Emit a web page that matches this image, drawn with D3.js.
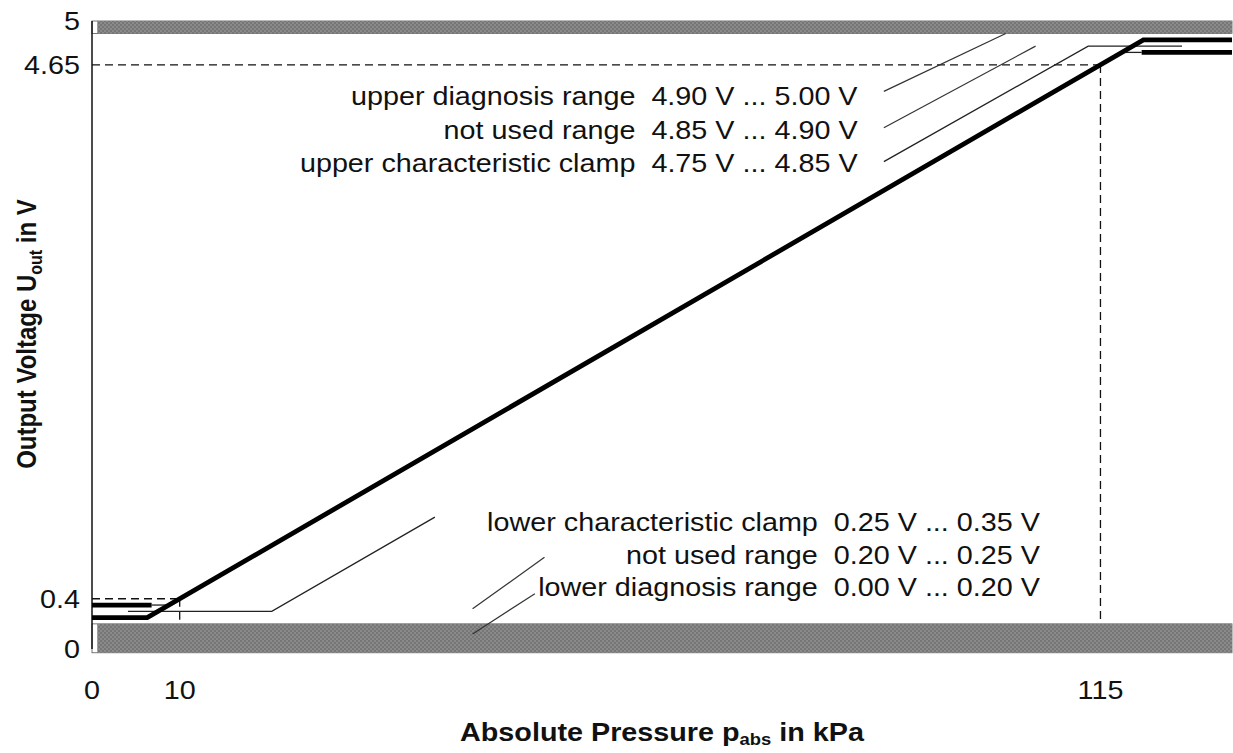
<!DOCTYPE html>
<html><head><meta charset="utf-8">
<script src="https://cdn.jsdelivr.net/npm/d3@7"></script>
<style>
html,body{margin:0;padding:0;background:#fff;}
svg{display:block;}
text{font-family:"Liberation Sans",Arial,sans-serif;fill:#111;}
</style></head>
<body>
<svg id="chart" width="1233" height="753"></svg>
<script>
// ---- data ----
const xDomain = [0, 130];               // kPa
const yDomain = [0, 5];                 // V
const xTickValues = [0, 10, 115];
const xTickLabels = ["0", "10", "115"];
const yTickValues = [0, 0.4, 4.65, 5];
const yTickLabels = ["0", "0.4", "4.65", "5"];

// characteristic (thick)
const characteristic = [[0, 0.25], [6.3, 0.25], [119.9, 4.85], [130, 4.85]];
const lowerClampThick = [[0, 0.35], [6.8, 0.35]];
const lowerClampThin = [[6.8, 0.35], [8.8, 0.35]];
const upperClampThick = [[119.7, 4.75], [130, 4.75]];
const upperClampThin = [[117.5, 4.75], [119.7, 4.75]];

// nominal clamp lines + leaders (thin)
const lowerNominal = [[4.1, 0.30], [20.5, 0.30], [39.1, 1.05]];
const upperNominal = [[90.3, 3.88], [113.6, 4.80], [124.3, 4.80]];
const leaderLines = [
  [[90.3, 4.44], [104.2, 4.90]],
  [[90.3, 4.15], [107.6, 4.80]],
  [[43.4, 0.32], [51.6, 0.73]],
  [[43.4, 0.12], [50.5, 0.44]]
];

// diagnosis bands
const bandLow = [0.6, 0.6];
const bandRanges = [[4.90, 5.00], [-0.03, 0.20]];

// dashed reference lines
const refLines = [
  [[0, 4.65], [115, 4.65]],
  [[115, 4.65], [115, 0.2]],
  [[0, 0.4], [10, 0.4]],
  [[10, 0.4], [10, 0.2]]
];

// annotation texts
const upperNames = ["upper diagnosis range", "not used range", "upper characteristic clamp"];
const upperRanges = ["4.90 V ... 5.00 V", "4.85 V ... 4.90 V", "4.75 V ... 4.85 V"];
const upperTextX = 87.3;
const upperTextY = [4.40, 4.13, 3.87];
const lowerNames = ["lower characteristic clamp", "not used range", "lower diagnosis range"];
const lowerRanges = ["0.25 V ... 0.35 V", "0.20 V ... 0.25 V", "0.00 V ... 0.20 V"];
const lowerTextX = 108.1;
const lowerTextY = [1.01, 0.75, 0.49];

// ---- drawing ----
const svg = d3.select("#chart");
const SX = 1.15;   // horizontal text stretch seen in the reference
const x = d3.scaleLinear().domain(xDomain).range([92, 1232]);
const y = d3.scaleLinear().domain(yDomain).range([649, 21]);
const line = d3.line().x(d => x(d[0])).y(d => y(d[1]));

// pattern for gray bands
const defs = svg.append("defs");
const pat = defs.append("pattern").attr("id", "chk").attr("width", 4).attr("height", 4)
  .attr("patternUnits", "userSpaceOnUse");
pat.append("rect").attr("width", 4).attr("height", 4).attr("fill", "#8a8a8a");
pat.append("rect").attr("width", 2).attr("height", 2).attr("fill", "#767676");
pat.append("rect").attr("x", 2).attr("y", 2).attr("width", 2).attr("height", 2).attr("fill", "#767676");

bandRanges.forEach(r => {
  svg.append("rect")
    .attr("x", x(0)).attr("y", y(r[1]))
    .attr("width", x(130) - x(0)).attr("height", y(r[0]) - y(r[1]))
    .attr("fill", "#fff").attr("stroke", "#555").attr("stroke-width", 0.8);
  svg.append("rect")
    .attr("x", x(bandLow[0])).attr("y", y(r[1]))
    .attr("width", x(130) - x(bandLow[0])).attr("height", y(r[0]) - y(r[1]))
    .attr("fill", "url(#chk)");
});

// y axis line
svg.append("line").attr("x1", x(0)).attr("x2", x(0)).attr("y1", y(5)).attr("y2", y(0))
  .attr("stroke", "#111").attr("stroke-width", 1.5);

// dashed reference lines
refLines.forEach(l => svg.append("path").attr("d", line(l)).attr("fill", "none")
  .attr("stroke", "#111").attr("stroke-width", 1.3).attr("stroke-dasharray", "8,5"));

// thin lines
[lowerNominal, upperNominal, lowerClampThin, upperClampThin].forEach(l =>
  svg.append("path").attr("d", line(l)).attr("fill", "none")
    .attr("stroke", "#222").attr("stroke-width", 1.3));
leaderLines.forEach(l => svg.append("path").attr("d", line(l)).attr("fill", "none")
  .attr("stroke", "#333").attr("stroke-width", 1.2));

// thick lines
[characteristic, lowerClampThick, upperClampThick].forEach(l =>
  svg.append("path").attr("d", line(l)).attr("fill", "none")
    .attr("stroke", "#000").attr("stroke-width", 4.8).attr("stroke-linejoin", "miter"));

// tick labels
yTickValues.forEach((v, i) => svg.append("text")
  .attr("transform", `translate(80,${y(v)}) scale(${SX},1)`)
  .attr("dy", "0.35em").attr("text-anchor", "end").attr("font-size", 25)
  .text(yTickLabels[i]));
xTickValues.forEach((v, i) => svg.append("text")
  .attr("transform", `translate(${x(v)},690) scale(${SX},1)`)
  .attr("dy", "0.35em").attr("text-anchor", "middle").attr("font-size", 25)
  .text(xTickLabels[i]));

// annotations
function annot(names, ranges, tx, tys) {
  names.forEach((n, i) => svg.append("text")
    .attr("transform", `translate(${x(tx)},${y(tys[i])}) scale(${SX},1)`)
    .attr("dy", "0.35em").attr("text-anchor", "end").attr("font-size", 25)
    .style("white-space", "pre")
    .text(n + "  " + ranges[i]));
}
annot(upperNames, upperRanges, upperTextX, upperTextY);
annot(lowerNames, lowerRanges, lowerTextX, lowerTextY);

// axis titles
const xt = svg.append("text")
  .attr("transform", `translate(662,741) scale(${SX},1)`)
  .attr("text-anchor", "middle").attr("font-size", 25).attr("font-weight", "bold");
xt.append("tspan").text("Absolute Pressure p");
xt.append("tspan").attr("font-size", 16).attr("dy", 4).text("abs");
xt.append("tspan").attr("dy", -4).text(" in kPa");

const yt = svg.append("text")
  .attr("transform", `translate(36,334) scale(${SX},1) rotate(-90)`)
  .attr("text-anchor", "middle").attr("font-size", 24).attr("font-weight", "bold");
yt.append("tspan").text("Output Voltage U");
yt.append("tspan").attr("font-size", 16).attr("dy", 5).text("out");
yt.append("tspan").attr("dy", -5).text(" in V");
</script>
</body></html>
